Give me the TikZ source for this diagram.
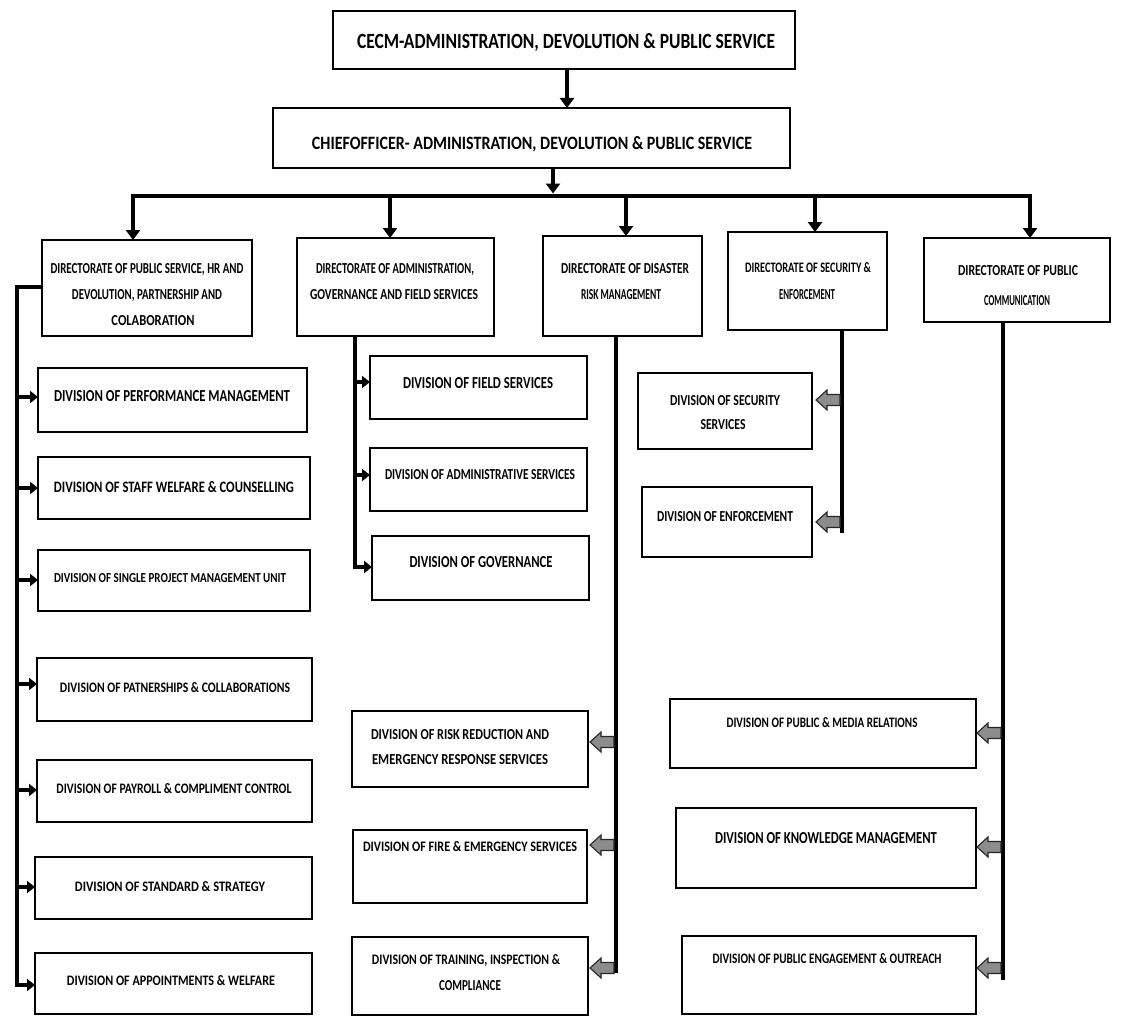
\documentclass[tikz,border=0pt]{standalone}
\usepackage{graphicx}
\usepackage{fontspec}
\setmainfont{Carlito}
\usetikzlibrary{arrows.meta}

% label: name, x, y (cap centre), width, cap height, text
\newcommand\lbl[6]{\node[lbl, text height=#5pt] (#1) at (#2,#3) {\resizebox{#4pt}{#5pt}{\bfseries #6}};}
% frame: name, x1, y1, x2, y2
\newcommand\bx[5]{\node[frame, minimum width={(#4-#2)*1pt}, minimum height={(#5-#3)*1pt}] (#1) at ({(#2+#4)/2},{(#3+#5)/2}) {};}
% hollow block arrow pointing left, its tail on the given coordinate
\newcommand\blockarrow[1]{\draw[hollow] ([xshift=-2pt]#1) ++(0,-5.5) -- ++(-13,0) -- ++(0,-4.5) -- ++(-11,10) -- ++(11,10) -- ++(0,-4.5) -- ++(13,0) -- cycle;}

\tikzset{
  frame/.style={draw, line width=1.8pt, fill=white, inner sep=0pt, outer sep=0pt},
  lbl/.style={inner sep=0pt, outer sep=0pt, text depth=0pt, anchor=center},
  wire/.style={line width=4.5pt, line join=miter},
  arr/.style={wire, -{Triangle[width=14pt,length=10pt]}},
  arrs/.style={line width=4pt, line join=miter, -{Triangle[width=12pt,length=8pt]}},
  hollow/.style={draw=black!85, fill=black!45, line width=1.1pt, line join=miter},
}

\begin{document}
\begin{tikzpicture}[x=1pt,y=-1pt]
\useasboundingbox[fill=white] (0,0) rectangle (1123,1019);

% ---- top of the hierarchy
\bx{cecm}{333}{11}{795}{69}
\lbl{tcecm}{566}{41}{418}{15}{CECM-ADMINISTRATION, DEVOLUTION \& PUBLIC SERVICE}
\bx{chief}{273}{108}{790}{168}
\lbl{tchief}{532}{143}{440}{13}{CHIEFOFFICER- ADMINISTRATION, DEVOLUTION \& PUBLIC SERVICE}

\draw[arr] (cecm.south -| 567,0) -- (chief.north -| 567,0);

% ---- directorates
\bx{d1}{42}{240}{252}{336}
\lbl{td1a}{147}{268}{193}{10}{DIRECTORATE OF PUBLIC SERVICE, HR AND}
\lbl{td1b}{147}{294}{150}{10}{DEVOLUTION, PARTNERSHIP AND}
\lbl{td1c}{153}{320}{83}{10}{COLABORATION}

\bx{d2}{297}{238}{494}{336}
\lbl{td2a}{395}{268}{158}{10}{DIRECTORATE OF ADMINISTRATION,}
\lbl{td2b}{394}{294}{168}{10}{GOVERNANCE AND FIELD SERVICES}

\bx{d3}{543}{236}{702}{336}
\lbl{td3a}{625}{268}{128}{10}{DIRECTORATE OF DISASTER}
\lbl{td3b}{621}{294}{80}{10}{RISK MANAGEMENT}

\bx{d4}{728}{232}{887}{330}
\lbl{td4a}{808}{267}{126}{10}{DIRECTORATE OF SECURITY \&}
\lbl{td4b}{807}{294}{56}{10}{ENFORCEMENT}

\bx{d5}{924}{238}{1110}{322}
\lbl{td5a}{1018}{270}{120}{10}{DIRECTORATE OF PUBLIC}
\lbl{td5b}{1017}{300}{66}{10}{COMMUNICATION}

% bus from the chief officer to the directorates
\coordinate (cj) at (553,196);
\coordinate (b1) at (133,196);
\coordinate (b2) at (390,196);
\coordinate (b3) at (626,196);
\coordinate (b4) at (815,196);
\coordinate (b5) at (1030,196);
\draw[wire, line cap=rect] (b1) -- (b5);
\draw[arr] (chief.south -| cj) -- ([yshift=2.5pt]cj);
\draw[arr] (b1) -- (b1 |- d1.north);
\draw[arr] (b2) -- (b2 |- d2.north);
\draw[arr] (b3) -- (b3 |- d3.north);
\draw[arr] (b4) -- (b4 |- d4.north);
\draw[arr] (b5) -- (b5 |- d5.north);

% ---- public service, HR and devolution divisions
\bx{l1}{38}{368}{307}{432}
\lbl{tl1}{172}{396}{236}{11}{DIVISION OF PERFORMANCE MANAGEMENT}
\bx{l2}{38}{457}{310}{519}
\lbl{tl2}{174}{487}{240}{11}{DIVISION OF STAFF WELFARE \& COUNSELLING}
\bx{l3}{38}{550}{310}{611}
\lbl{tl3}{170}{578}{232}{9}{DIVISION OF SINGLE PROJECT MANAGEMENT UNIT}
\bx{l4}{37}{658}{312}{721}
\lbl{tl4}{175}{687}{230}{10}{DIVISION OF PATNERSHIPS \& COLLABORATIONS}
\bx{l5}{37}{760}{312}{822}
\lbl{tl5}{174}{788}{235}{10}{DIVISION OF PAYROLL \& COMPLIMENT CONTROL}
\bx{l6}{35}{857}{312}{919}
\lbl{tl6}{170}{886}{190}{10}{DIVISION OF STANDARD \& STRATEGY}
\bx{l7}{35}{953}{312}{1014}
\lbl{tl7}{171}{980}{208}{10}{DIVISION OF APPOINTMENTS \& WELFARE}

\coordinate (lt) at (17,287);
\coordinate (la1) at (17,397);
\coordinate (la2) at (17,488);
\coordinate (la3) at (17,580);
\coordinate (la4) at (17,684);
\coordinate (la5) at (17,790);
\coordinate (la6) at (17,887);
\coordinate (lb) at (17,985);
\draw[arrs] (d1.west |- lt) -- (lt) -- (lb) -- (l7.west |- lb);
\draw[arrs] (la1) -- (l1.west |- la1);
\draw[arrs] (la2) -- (l2.west |- la2);
\draw[arrs] (la3) -- (l3.west |- la3);
\draw[arrs] (la4) -- (l4.west |- la4);
\draw[arrs] (la5) -- (l5.west |- la5);
\draw[arrs] (la6) -- (l6.west |- la6);

% ---- administration, governance and field services divisions
\bx{m1}{370}{356}{587}{419}
\lbl{tm1}{478}{383}{150}{11}{DIVISION OF FIELD SERVICES}
\bx{m2}{370}{448}{587}{511}
\lbl{tm2}{480}{474}{190}{10}{DIVISION OF ADMINISTRATIVE SERVICES}
\bx{m3}{372}{536}{589}{600}
\lbl{tm3}{481}{562}{143}{11}{DIVISION OF GOVERNANCE}

\coordinate (ma1) at (355,382);
\coordinate (ma2) at (355,475);
\coordinate (mb) at (355,567);
\draw[arrs] (d2.south -| mb) -- (mb) -- (m3.west |- mb);
\draw[arrs] (ma1) -- (m1.west |- ma1);
\draw[arrs] (ma2) -- (m2.west |- ma2);

% ---- disaster risk management divisions
\bx{r1}{352}{711}{588}{787}
\lbl{tr1a}{460}{734}{178}{10}{DIVISION OF RISK REDUCTION AND}
\lbl{tr1b}{460}{759}{176}{10}{EMERGENCY RESPONSE SERVICES}
\bx{r2}{353}{830}{587}{903}
\lbl{tr2}{470}{846}{214}{10}{DIVISION OF FIRE \& EMERGENCY SERVICES}
\bx{r3}{352}{937}{588}{1015}
\lbl{tr3a}{466}{959}{188}{10}{DIVISION OF TRAINING, INSPECTION \&}
\lbl{tr3b}{470}{985}{62}{10}{COMPLIANCE}

\coordinate (ra1) at (616,742);
\coordinate (ra2) at (616,845);
\coordinate (ra3) at (616,968);
\coordinate (rb) at (616,973);
\draw[wire] (d3.south -| rb) -- (rb);
\blockarrow{ra1}
\blockarrow{ra2}
\blockarrow{ra3}

% ---- security and enforcement divisions
\bx{s1}{638}{373}{812}{449}
\lbl{ts1a}{725}{400}{110}{10}{DIVISION OF SECURITY}
\lbl{ts1b}{723}{424}{45}{10}{SERVICES}
\bx{s2}{642}{487}{812}{557}
\lbl{ts2}{725}{516}{136}{10}{DIVISION OF ENFORCEMENT}

\coordinate (sa1) at (842,400);
\coordinate (sa2) at (842,522);
\coordinate (sb) at (842,533);
\draw[wire] (d4.south -| sb) -- (sb);
\blockarrow{sa1}
\blockarrow{sa2}

% ---- public communication divisions
\bx{p1}{670}{699}{976}{768}
\lbl{tp1}{822}{722}{191}{10}{DIVISION OF PUBLIC \& MEDIA RELATIONS}
\bx{p2}{676}{808}{976}{888}
\lbl{tp2}{826}{838}{222}{11}{DIVISION OF KNOWLEDGE MANAGEMENT}
\bx{p3}{682}{936}{976}{1014}
\lbl{tp3}{827}{958}{229}{10}{DIVISION OF PUBLIC ENGAGEMENT \& OUTREACH}

\coordinate (pa1) at (1003,733);
\coordinate (pa2) at (1003,847);
\coordinate (pa3) at (1003,968);
\coordinate (pb) at (1003,980);
\draw[wire] (d5.south -| pb) -- (pb);
\blockarrow{pa1}
\blockarrow{pa2}
\blockarrow{pa3}
\end{tikzpicture}
\end{document}
